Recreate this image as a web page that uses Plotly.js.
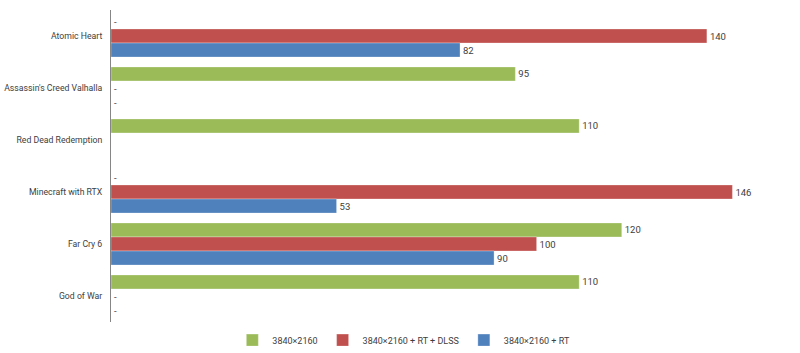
<!DOCTYPE html>
<html>
<head>
<meta charset="utf-8">
<script src="https://cdn.plot.ly/plotly-3.0.1.min.js"></script>
<style>html,body{margin:0;padding:0;background:#fff;}#chart{width:800px;height:353px;}</style>
</head>
<body>
<div id="chart"></div>
<script>
const games = ["Atomic Heart", "Assassin's Creed Valhalla", "Red Dead Redemption", "Minecraft with RTX", "Far Cry 6", "God of War"];
const seriesNames = ["3840×2160", "3840×2160 + RT + DLSS", "3840×2160 + RT"];
// null = no value (blank); "-" shown where value missing but listed
const native4k = [0, 95, 110, 0, 120, 110];
const native4kText = ["-", "95", "110", "-", "120", "110"];
const rtDlss = [140, 0, null, 146, 100, 0];
const rtDlssText = ["140", "-", "", "146", "100", "-"];
const rtOnly = [82, 0, null, 53, 90, 0];
const rtOnlyText = ["82", "-", "", "53", "90", "-"];
const colors = ["#9BBB59", "#C0504D", "#4F81BD"];

const values = [native4k, rtDlss, rtOnly];
const texts = [native4kText, rtDlssText, rtOnlyText];
const fam = "Roboto, Liberation Sans, Arial, sans-serif";
const font = {family: fam, size: 9.5, color: "#404040"};

const traces = values.map((v, i) => ({
  type: "bar",
  orientation: "h",
  name: seriesNames[i],
  y: games,
  x: v,
  text: texts[i],
  textposition: "outside",
  cliponaxis: false,
  textfont: font,
  marker: {color: colors[i], line: {color: "rgba(255,255,255,0.6)", width: 0.5}},
  hoverinfo: "x+name"
}));

const layout = {
  width: 800, height: 353,
  margin: {l: 111, r: 8, t: 10, b: 31, autoexpand: false},
  paper_bgcolor: "#fff", plot_bgcolor: "#fff",
  barmode: "group",
  bargap: 0.19,
  bargroupgap: 0,
  font: font,
  showlegend: true,
  legend: {orientation: "h", x: 0.43, xanchor: "center", y: -0.058, yanchor: "middle", font: {family: fam, size: 9, color: "#404040"}, itemwidth: 30, traceorder: "normal"},
  xaxis: {range: [0, 160], showgrid: false, zeroline: false, showticklabels: false, ticks: "", showline: false, fixedrange: true},
  yaxis: {type: "category", autorange: "reversed", showgrid: false, zeroline: false, showline: true, linecolor: "#868686", linewidth: 1, ticks: "outside", ticklen: 6, tickcolor: "rgba(0,0,0,0)", tickfont: {family: fam, size: 8.7, color: "#404040"}, fixedrange: true}
};

Plotly.newPlot("chart", traces, layout, {displayModeBar: false, staticPlot: true});
</script>
</body>
</html>
